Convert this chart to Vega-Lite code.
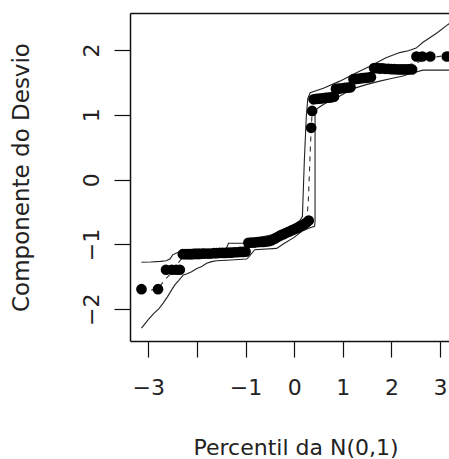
{
  "$schema": "https://vega.github.io/schema/vega-lite/v6.json",
  "width": 319,
  "height": 328,
  "autosize": {"type": "none"},
  "padding": {"left": 130, "top": 13, "right": 0, "bottom": 118},
  "background": "white",
  "config": {
    "view": {"stroke": null},
    "axis": {
      "grid": false,
      "domainColor": "#111",
      "domainWidth": 1.5,
      "tickColor": "#111",
      "tickWidth": 1.2,
      "tickSize": 16,
      "labelFont": "DejaVu Sans",
      "labelFontSize": 22,
      "labelColor": "#222",
      "labelFlush": false,
      "labelOverlap": false,
      "labelBound": false,
      "titleFont": "DejaVu Sans",
      "titleFontSize": 22,
      "titleFontWeight": "normal",
      "titleColor": "#222"
    }
  },
  "datasets": {
    "pontos": [
      {"q": -3.14, "r": -1.69}, {"q": -2.80, "r": -1.69},
      {"q": -2.635, "r": -1.39}, {"q": -2.516, "r": -1.39}, {"q": -2.426, "r": -1.39}, {"q": -2.352, "r": -1.39},
      {"q": -2.290, "r": -1.15}, {"q": -2.234, "r": -1.15}, {"q": -2.185, "r": -1.15}, {"q": -2.141, "r": -1.15},
      {"q": -2.101, "r": -1.15}, {"q": -2.065, "r": -1.145}, {"q": -2.030, "r": -1.145}, {"q": -1.998, "r": -1.145},
      {"q": -1.967, "r": -1.145}, {"q": -1.939, "r": -1.145}, {"q": -1.886, "r": -1.14}, {"q": -1.838, "r": -1.14},
      {"q": -1.773, "r": -1.14}, {"q": -1.714, "r": -1.14}, {"q": -1.645, "r": -1.135}, {"q": -1.590, "r": -1.135},
      {"q": -1.530, "r": -1.13}, {"q": -1.470, "r": -1.13}, {"q": -1.410, "r": -1.13}, {"q": -1.350, "r": -1.125},
      {"q": -1.290, "r": -1.125}, {"q": -1.230, "r": -1.12}, {"q": -1.170, "r": -1.12}, {"q": -1.110, "r": -1.115},
      {"q": -1.050, "r": -1.115}, {"q": -1.000, "r": -1.11},
      {"q": -0.94, "r": -0.975}, {"q": -0.88, "r": -0.97}, {"q": -0.82, "r": -0.97}, {"q": -0.76, "r": -0.965},
      {"q": -0.70, "r": -0.96}, {"q": -0.64, "r": -0.96}, {"q": -0.58, "r": -0.955}, {"q": -0.52, "r": -0.95},
      {"q": -0.46, "r": -0.935}, {"q": -0.40, "r": -0.91}, {"q": -0.34, "r": -0.885}, {"q": -0.28, "r": -0.86},
      {"q": -0.22, "r": -0.84}, {"q": -0.16, "r": -0.82}, {"q": -0.10, "r": -0.80}, {"q": -0.04, "r": -0.78},
      {"q": 0.02, "r": -0.76}, {"q": 0.08, "r": -0.74}, {"q": 0.14, "r": -0.715}, {"q": 0.20, "r": -0.69},
      {"q": 0.25, "r": -0.665}, {"q": 0.30, "r": -0.63},
      {"q": 0.35, "r": 0.80}, {"q": 0.37, "r": 1.06},
      {"q": 0.40, "r": 1.24}, {"q": 0.46, "r": 1.245}, {"q": 0.52, "r": 1.25}, {"q": 0.58, "r": 1.255},
      {"q": 0.64, "r": 1.26}, {"q": 0.70, "r": 1.265}, {"q": 0.76, "r": 1.27}, {"q": 0.82, "r": 1.28},
      {"q": 0.86, "r": 1.40}, {"q": 0.92, "r": 1.405}, {"q": 0.98, "r": 1.41}, {"q": 1.04, "r": 1.415},
      {"q": 1.10, "r": 1.42}, {"q": 1.16, "r": 1.425},
      {"q": 1.22, "r": 1.55}, {"q": 1.28, "r": 1.555}, {"q": 1.34, "r": 1.56}, {"q": 1.40, "r": 1.565},
      {"q": 1.46, "r": 1.57}, {"q": 1.52, "r": 1.575}, {"q": 1.58, "r": 1.58},
      {"q": 1.645, "r": 1.72}, {"q": 1.70, "r": 1.72}, {"q": 1.76, "r": 1.715}, {"q": 1.82, "r": 1.715},
      {"q": 1.88, "r": 1.71}, {"q": 1.94, "r": 1.71}, {"q": 2.00, "r": 1.705}, {"q": 2.06, "r": 1.705},
      {"q": 2.12, "r": 1.70}, {"q": 2.18, "r": 1.70}, {"q": 2.235, "r": 1.70}, {"q": 2.29, "r": 1.70},
      {"q": 2.352, "r": 1.70}, {"q": 2.426, "r": 1.70},
      {"q": 2.516, "r": 1.90}, {"q": 2.635, "r": 1.90}, {"q": 2.80, "r": 1.90},
      {"q": 3.14, "r": 1.90}
    ],
    "envelope": [
      {"curva": "inf", "ordem": 1, "q": -3.14, "r": -2.29},
      {"curva": "inf", "ordem": 2, "q": -3.00, "r": -2.16},
      {"curva": "inf", "ordem": 3, "q": -2.88, "r": -2.06},
      {"curva": "inf", "ordem": 4, "q": -2.78, "r": -1.99},
      {"curva": "inf", "ordem": 5, "q": -2.69, "r": -1.90},
      {"curva": "inf", "ordem": 6, "q": -2.60, "r": -1.80},
      {"curva": "inf", "ordem": 7, "q": -2.52, "r": -1.70},
      {"curva": "inf", "ordem": 8, "q": -2.45, "r": -1.62},
      {"curva": "inf", "ordem": 9, "q": -2.38, "r": -1.56},
      {"curva": "inf", "ordem": 10, "q": -2.28, "r": -1.47},
      {"curva": "inf", "ordem": 11, "q": -2.20, "r": -1.45},
      {"curva": "inf", "ordem": 12, "q": -2.11, "r": -1.42},
      {"curva": "inf", "ordem": 13, "q": -2.00, "r": -1.37},
      {"curva": "inf", "ordem": 14, "q": -1.90, "r": -1.34},
      {"curva": "inf", "ordem": 15, "q": -1.80, "r": -1.29},
      {"curva": "inf", "ordem": 16, "q": -1.70, "r": -1.265},
      {"curva": "inf", "ordem": 17, "q": -1.59, "r": -1.25},
      {"curva": "inf", "ordem": 18, "q": -1.30, "r": -1.24},
      {"curva": "inf", "ordem": 19, "q": -0.98, "r": -1.225},
      {"curva": "inf", "ordem": 20, "q": -0.94, "r": -1.20},
      {"curva": "inf", "ordem": 21, "q": -0.81, "r": -1.08},
      {"curva": "inf", "ordem": 22, "q": -0.36, "r": -1.06},
      {"curva": "inf", "ordem": 23, "q": -0.20, "r": -0.98},
      {"curva": "inf", "ordem": 24, "q": 0.00, "r": -0.89},
      {"curva": "inf", "ordem": 25, "q": 0.15, "r": -0.80},
      {"curva": "inf", "ordem": 26, "q": 0.30, "r": -0.75},
      {"curva": "inf", "ordem": 27, "q": 0.42, "r": -0.72},
      {"curva": "inf", "ordem": 28, "q": 0.43, "r": -0.65},
      {"curva": "inf", "ordem": 29, "q": 0.43, "r": 1.06},
      {"curva": "inf", "ordem": 30, "q": 0.50, "r": 1.11},
      {"curva": "inf", "ordem": 31, "q": 0.60, "r": 1.16},
      {"curva": "inf", "ordem": 32, "q": 0.75, "r": 1.22},
      {"curva": "inf", "ordem": 33, "q": 0.94, "r": 1.29},
      {"curva": "inf", "ordem": 34, "q": 1.10, "r": 1.36},
      {"curva": "inf", "ordem": 35, "q": 1.28, "r": 1.42},
      {"curva": "inf", "ordem": 36, "q": 1.50, "r": 1.47},
      {"curva": "inf", "ordem": 37, "q": 1.76, "r": 1.52},
      {"curva": "inf", "ordem": 38, "q": 2.00, "r": 1.56},
      {"curva": "inf", "ordem": 39, "q": 2.24, "r": 1.60},
      {"curva": "inf", "ordem": 40, "q": 2.40, "r": 1.64},
      {"curva": "inf", "ordem": 41, "q": 2.51, "r": 1.66},
      {"curva": "inf", "ordem": 42, "q": 2.65, "r": 1.69},
      {"curva": "inf", "ordem": 43, "q": 3.25, "r": 1.69},
      {"curva": "sup", "ordem": 1, "q": -3.14, "r": -1.275},
      {"curva": "sup", "ordem": 2, "q": -2.95, "r": -1.27},
      {"curva": "sup", "ordem": 3, "q": -2.75, "r": -1.26},
      {"curva": "sup", "ordem": 4, "q": -2.63, "r": -1.25},
      {"curva": "sup", "ordem": 5, "q": -2.55, "r": -1.22},
      {"curva": "sup", "ordem": 6, "q": -2.50, "r": -1.16},
      {"curva": "sup", "ordem": 7, "q": -2.42, "r": -1.13},
      {"curva": "sup", "ordem": 8, "q": -2.30, "r": -1.10},
      {"curva": "sup", "ordem": 9, "q": -2.00, "r": -1.09},
      {"curva": "sup", "ordem": 10, "q": -1.60, "r": -1.08},
      {"curva": "sup", "ordem": 11, "q": -1.40, "r": -1.07},
      {"curva": "sup", "ordem": 12, "q": -1.35, "r": -0.98},
      {"curva": "sup", "ordem": 13, "q": -1.05, "r": -0.98},
      {"curva": "sup", "ordem": 14, "q": -0.95, "r": -0.92},
      {"curva": "sup", "ordem": 15, "q": -0.70, "r": -0.89},
      {"curva": "sup", "ordem": 16, "q": -0.45, "r": -0.85},
      {"curva": "sup", "ordem": 17, "q": -0.20, "r": -0.76},
      {"curva": "sup", "ordem": 18, "q": 0.00, "r": -0.69},
      {"curva": "sup", "ordem": 19, "q": 0.12, "r": -0.63},
      {"curva": "sup", "ordem": 20, "q": 0.17, "r": -0.57},
      {"curva": "sup", "ordem": 21, "q": 0.21, "r": 0.30},
      {"curva": "sup", "ordem": 22, "q": 0.25, "r": 0.97},
      {"curva": "sup", "ordem": 23, "q": 0.28, "r": 1.25},
      {"curva": "sup", "ordem": 24, "q": 0.33, "r": 1.34},
      {"curva": "sup", "ordem": 25, "q": 0.60, "r": 1.41},
      {"curva": "sup", "ordem": 26, "q": 0.94, "r": 1.52},
      {"curva": "sup", "ordem": 27, "q": 1.28, "r": 1.65},
      {"curva": "sup", "ordem": 28, "q": 1.56, "r": 1.75},
      {"curva": "sup", "ordem": 29, "q": 1.89, "r": 1.88},
      {"curva": "sup", "ordem": 30, "q": 2.17, "r": 1.96},
      {"curva": "sup", "ordem": 31, "q": 2.35, "r": 1.99},
      {"curva": "sup", "ordem": 32, "q": 2.51, "r": 2.03},
      {"curva": "sup", "ordem": 33, "q": 2.65, "r": 2.12},
      {"curva": "sup", "ordem": 34, "q": 2.79, "r": 2.19},
      {"curva": "sup", "ordem": 35, "q": 2.95, "r": 2.27},
      {"curva": "sup", "ordem": 36, "q": 3.14, "r": 2.38},
      {"curva": "sup", "ordem": 37, "q": 3.25, "r": 2.44}
    ],
    "mediana": [
      {"ordem": 1, "q": -3.14, "r": -1.74},
      {"ordem": 2, "q": -2.80, "r": -1.68},
      {"ordem": 3, "q": -2.64, "r": -1.53},
      {"ordem": 4, "q": -2.50, "r": -1.42},
      {"ordem": 5, "q": -2.35, "r": -1.25},
      {"ordem": 6, "q": -2.20, "r": -1.15},
      {"ordem": 7, "q": -1.50, "r": -1.12},
      {"ordem": 8, "q": -1.10, "r": -1.08},
      {"ordem": 9, "q": -0.90, "r": -1.00},
      {"ordem": 10, "q": -0.50, "r": -0.95},
      {"ordem": 11, "q": 0.00, "r": -0.78},
      {"ordem": 12, "q": 0.25, "r": -0.69},
      {"ordem": 13, "q": 0.29, "r": -0.36},
      {"ordem": 14, "q": 0.34, "r": 0.61},
      {"ordem": 15, "q": 0.37, "r": 1.05},
      {"ordem": 16, "q": 0.45, "r": 1.22},
      {"ordem": 17, "q": 0.90, "r": 1.38},
      {"ordem": 18, "q": 1.40, "r": 1.55},
      {"ordem": 19, "q": 2.00, "r": 1.70},
      {"ordem": 20, "q": 2.50, "r": 1.80},
      {"ordem": 21, "q": 2.80, "r": 1.88},
      {"ordem": 22, "q": 3.25, "r": 1.93}
    ]
  },
  "resolve": {"axis": {"x": "independent", "y": "independent"}},
  "layer": [
    {
      "data": {"name": "envelope"},
      "mark": {"type": "line", "color": "#222", "strokeWidth": 1.1},
      "encoding": {
        "x": {
          "field": "q", "type": "quantitative",
          "scale": {"domain": [-3.376, 3.185], "nice": false, "zero": false},
          "axis": {
            "orient": "bottom",
            "values": [-3, -2, -1, 0, 1, 2, 3],
            "labelExpr": "datum.value === -2 ? '' : datum.label",
            "labelPadding": 20,
            "title": "Percentil da N(0,1)",
            "titleX": 165.5,
            "titleY": 113,
            "titleBaseline": "alphabetic"
          }
        },
        "y": {
          "field": "r", "type": "quantitative",
          "scale": {"domain": [-2.489, 2.571], "nice": false, "zero": false},
          "axis": {
            "orient": "left",
            "values": [-2, -1, 0, 1, 2],
            "labelAngle": -90,
            "labelAlign": "center",
            "labelBaseline": "alphabetic",
            "labelPadding": 16,
            "title": "Componente do Desvio",
            "titleFontSize": 23,
            "titleX": -102,
            "titleBaseline": "alphabetic"
          }
        },
        "detail": {"field": "curva"},
        "order": {"field": "ordem"}
      }
    },
    {
      "data": {"name": "mediana"},
      "mark": {"type": "line", "color": "#333", "strokeWidth": 1.1, "strokeDash": [5, 5]},
      "encoding": {
        "x": {"field": "q", "type": "quantitative", "axis": null},
        "y": {"field": "r", "type": "quantitative", "axis": null},
        "order": {"field": "ordem"}
      }
    },
    {
      "data": {"name": "pontos"},
      "mark": {"type": "point", "filled": true, "color": "black", "opacity": 1, "size": 115},
      "encoding": {
        "x": {
          "field": "q", "type": "quantitative",
          "axis": {"orient": "top", "labels": false, "ticks": false, "title": null, "domain": true}
        },
        "y": {"field": "r", "type": "quantitative", "axis": null}
      }
    }
  ]
}
